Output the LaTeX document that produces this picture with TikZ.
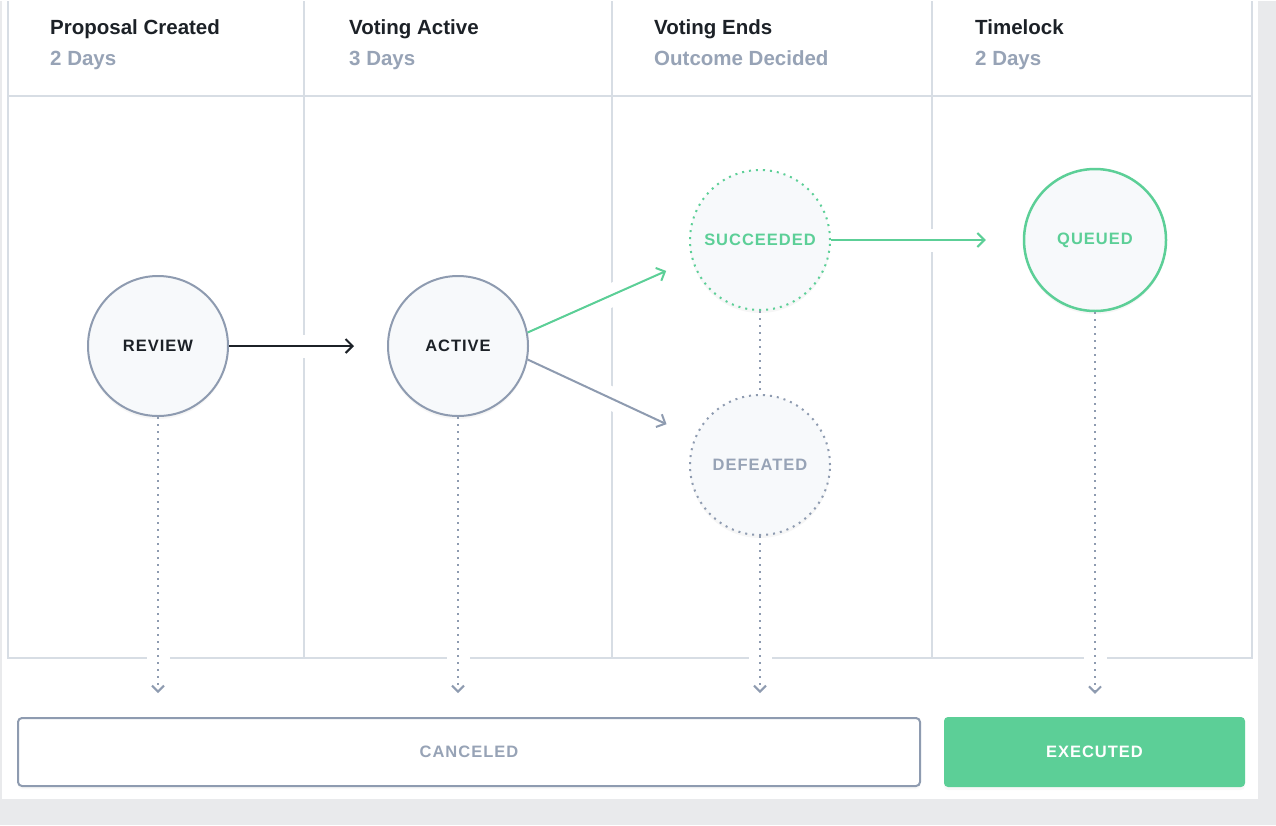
\documentclass[tikz,border=0pt]{standalone}
\usepackage{fontspec}
\setmainfont{Liberation Sans}
\newfontfamily\trackedfont[LetterSpace=6]{Liberation Sans}
\usetikzlibrary{arrows.meta, shadows}
\definecolor{ink}{HTML}{1C2127}
\definecolor{slate}{HTML}{8E9BB0}
\definecolor{fog}{HTML}{97A3B6}
\definecolor{mint}{HTML}{5CCF97}
\definecolor{rule}{HTML}{D7DDE4}
\definecolor{pale}{HTML}{F7F9FB}
\definecolor{backdrop}{HTML}{E9EAEC}
\pgfdeclarelayer{back}
\pgfsetlayers{back,main}

\begin{document}
\begin{tikzpicture}[x=1pt, y=-1pt,
  rule line/.style={draw=rule, line width=2pt},
  cutout/.style={draw=white, line width=23pt},
  head/.style={anchor=base west, inner sep=0pt, font=\bfseries\fontsize{20.5pt}{24pt}\selectfont},
  ball/.style={circle, minimum size=140pt, inner sep=0pt, fill=pale, line width=2pt,
    drop shadow={shadow xshift=0pt, shadow yshift=-3pt, opacity=0.07},
    font=\trackedfont\bfseries\fontsize{16.5pt}{19pt}\selectfont},
  ring/.style={dash pattern=on 2pt off 5pt},
  flow/.style={line width=2pt, -{Straight Barb[length=7pt, width=14pt]}},
  fall/.style={draw=slate, line width=2pt, dash pattern=on 2pt off 5pt,
    -{Straight Barb[length=6pt, width=12pt]}, shorten >=24pt},
  bar/.style={rectangle, rounded corners=4pt, inner sep=0pt,
    drop shadow={shadow xshift=0pt, shadow yshift=-3pt, opacity=0.05},
    font=\trackedfont\bfseries\fontsize{16.5pt}{19pt}\selectfont}
]
\foreach \x/\hdr/\dur [count=\i] in {50/Proposal Created/2 Days, 349/Voting Active/3 Days, 654/Voting Ends/Outcome Decided, 975/Timelock/2 Days} {
  \node[head, text=ink] (title\i) at (\x,33) {\hdr};
  \node[head, text=fog] (span\i) at (\x,64) {\dur};
}
\node[ball, draw=slate, text=ink] (review) at (158,345) {REVIEW};
\node[ball, draw=slate, text=ink] (active) at (458,345) {ACTIVE};
\node[ball, ring, draw=mint, text=mint] (succeeded) at (760,239) {SUCCEEDED};
\node[ball, ring, draw=slate, text=fog] (defeated) at (760,464) {DEFEATED};
\node[ball, draw=mint, text=mint, line width=2.5pt, minimum size=142pt] (queued) at (1095,239) {QUEUED};
\node[bar, draw=slate, line width=2pt, fill=white, text=fog, minimum width=902pt, minimum height=68pt] (canceled) at (469,751) {CANCELED};
\node[bar, fill=mint, text=white, minimum width=301pt, minimum height=70pt] (executed) at (1094.5,751) {EXECUTED};

\draw[flow, ink, shorten >=33pt] (review) -- (active);
\draw[flow, mint, shorten >=28pt] (active.11) -- (succeeded.196);
\draw[flow, slate, shorten >=31pt] (active.-11) -- (defeated.157);
\draw[flow, mint, shorten >=37pt] (succeeded) -- (queued);
\draw[draw=slate, line width=2pt, ring] (succeeded) -- (defeated);
\draw[fall] (review) -- (review |- canceled.north);
\draw[fall] (active) -- (active |- canceled.north);
\draw[fall] (defeated) -- (defeated |- canceled.north);
\draw[fall, shorten >=23pt] (queued) -- (queued |- executed.north);

\begin{pgfonlayer}{back}
\fill[backdrop] (0,0) rectangle (1276,824);
\fill[white] (2,0) rectangle (1258,798);
\draw[rule line] (8,0) -- (8,657) -- (1252,657) -- (1252,0);
\draw[rule line] (8,95) -- (1252,95);
\foreach \x in {304,612,932} \draw[rule line] (\x,0) -- (\x,657);
\draw[cutout] (review) -- (active);
\draw[cutout] (active.11) -- (succeeded.196);
\draw[cutout] (active.-11) -- (defeated.157);
\draw[cutout] (succeeded) -- (queued);
\draw[cutout] (review) -- (review |- canceled.north);
\draw[cutout] (active) -- (active |- canceled.north);
\draw[cutout] (defeated) -- (defeated |- canceled.north);
\draw[cutout] (queued) -- (queued |- executed.north);
\end{pgfonlayer}
\end{tikzpicture}
\end{document}
